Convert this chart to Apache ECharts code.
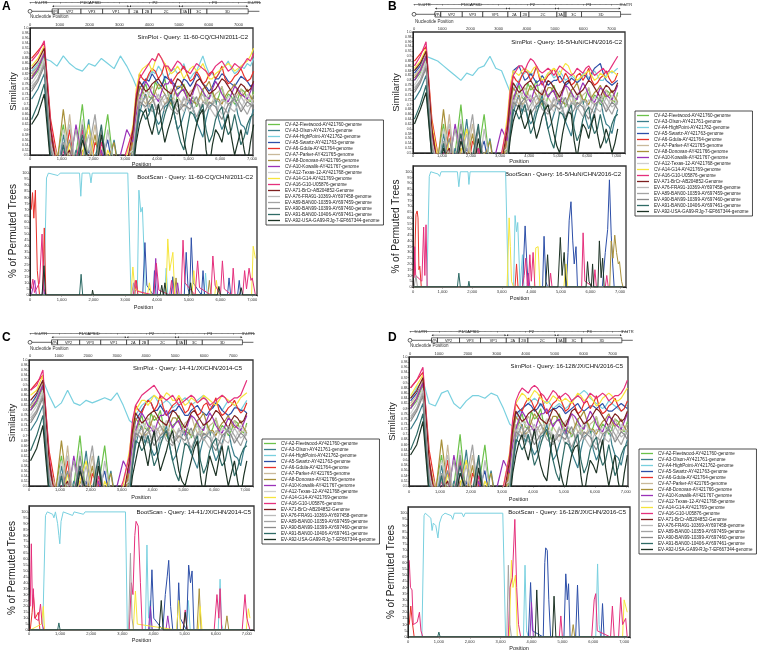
<!DOCTYPE html>
<html>
<head>
<meta charset="utf-8">
<script src="https://cdn.jsdelivr.net/npm/echarts@6/dist/echarts.min.js"></script>
<style>
  html, body { margin: 0; padding: 0; background: #fff; }
  #main { width: 759px; height: 652px; }
</style>
</head>
<body>
<div id="main"></div>
<script>
// reference strains, in legend order
const NAMES = [
  'CV-A2-Fleetwood-AY421760-genome', 'CV-A3-Olson-AY421761-genome', 'CV-A4-HighPoint-AY421762-genome',
  'CV-A5-Swartz-AY421763-genome', 'CV-A6-Gdula-AY421764-genome', 'CV-A7-Parker-AY421765-genome',
  'CV-A8-Donovan-AY421766-genome', 'CV-A10-Kowalik-AY421767-genome', 'CV-A12-Texas-12-AY421768-genome',
  'CV-A14-G14-AY421769-genome', 'CV-A16-G10-U05876-genome', 'EV-A71-BrCr-AB204852-Genome',
  'EV-A76-FRA91-10369-AY697458-genome', 'EV-A89-BAN00-10359-AY697459-genome', 'EV-A90-BAN99-10399-AY697460-genome',
  'EV-A91-BAN00-10406-AY697461-genome', 'EV-A92-USA-GA99-RJg-7-EF667344-genome'
];
const COLORS = ['#6cc24a', '#3b7f8c', '#79d0df', '#2d4fa8', '#e8312a', '#c9b99b', '#a8903a', '#9a32b8', '#cfcfcf',
  '#f6e53c', '#e5307c', '#7d1f1f', '#bababa', '#a3a3a3', '#8a8a8a', '#2f6b66', '#1d3325'];

// genome map
const GENES = [['VP4', 743, 950], ['VP2', 950, 1712], ['VP3', 1712, 2438], ['VP1', 2438, 3329], ['2A', 3329, 3779],
  ['2B', 3779, 4076], ['2C', 4076, 5066], ['3A', 5066, 5324], ['3B', 5324, 5390], ['3C', 5390, 5939], ['3D', 5939, 7322]];
const REGIONS = [["5'-UTR", 0, 743], ['P1/CAPSID', 743, 3329], ['P2', 3329, 5066], ['P3', 5066, 7322], ["3'-UTR", 7322, 7700]];

// SimPlot window centres (nt)
const SIM_POS = [50, 250, 450, 650, 850, 1050, 1250, 1450, 1650, 1850, 2050, 2250, 2450, 2650, 2850, 3050, 3250,
  3350, 3450, 3550, 3650, 3750, 3850, 3950, 4050, 4150, 4250, 4350, 4450, 4550, 4650, 4750, 4850, 4950, 5050, 5150,
  5250, 5350, 5450, 5550, 5650, 5750, 5850, 5950, 6050, 6150, 6250, 6350, 6450, 6550, 6650, 6750, 6850, 6950, 7050];

// similarity curves that look alike in all four panels
const bg_A2 = [0.8,0.83,0.89, 0.55,0.48,0.62,0.44,0.5,0.7,0.45,0.4,0.5,0.66,0.44,0.4,0.46, 0.52,
  0.64,0.7,0.75,0.78,0.73,0.72,0.79,0.76,0.77,0.8,0.74,0.7,0.68,0.74,0.75,0.78,0.74,0.71,0.73,0.69,0.72,0.76,0.7,0.73,0.75,0.7,0.73,0.77,0.71,0.74,0.73,0.7,0.72,0.76,0.75,0.72,0.71,0.75];
const bg_A3 = [0.72,0.76,0.82, 0.5,0.44,0.58,0.42,0.52,0.46,0.64,0.42,0.5,0.44,0.56,0.4,0.45, 0.48,
  0.58,0.66,0.71,0.74,0.67,0.7,0.65,0.62,0.64,0.69,0.7,0.74,0.66,0.6,0.62,0.66,0.7,0.72,0.68,0.63,0.6,0.57,0.64,0.69,0.7,0.72,0.64,0.6,0.63,0.67,0.71,0.73,0.66,0.62,0.61,0.58,0.64,0.68];
const bg_A6 = [0.88,0.91,0.94, 0.64,0.5,0.45,0.6,0.42,0.48,0.4,0.55,0.5,0.44,0.38,0.47,0.42, 0.58,
  0.72,0.82,0.8,0.79,0.82,0.84,0.83,0.8,0.82,0.86,0.81,0.78,0.8,0.82,0.83,0.85,0.82,0.79,0.8,0.83,0.81,0.78,0.79,0.82,0.83,0.8,0.82,0.85,0.8,0.78,0.79,0.81,0.82,0.84,0.81,0.79,0.8,0.83];
const bg_A7 = [0.82,0.85,0.91, 0.58,0.5,0.45,0.66,0.42,0.55,0.48,0.62,0.44,0.5,0.4,0.45,0.42, 0.55,
  0.68,0.74,0.72,0.7,0.74,0.77,0.75,0.72,0.73,0.7,0.72,0.76,0.75,0.73,0.71,0.69,0.72,0.75,0.76,0.78,0.74,0.71,0.72,0.7,0.71,0.74,0.75,0.77,0.73,0.7,0.71,0.72,0.74,0.76,0.73,0.71,0.72,0.74];
const bg_A8 = [0.81,0.84,0.9, 0.57,0.46,0.68,0.48,0.44,0.52,0.46,0.58,0.42,0.48,0.55,0.4,0.44, 0.56,
  0.7,0.77,0.75,0.73,0.7,0.71,0.75,0.78,0.76,0.74,0.72,0.7,0.74,0.77,0.77,0.75,0.73,0.72,0.71,0.7,0.73,0.76,0.77,0.79,0.75,0.72,0.72,0.7,0.73,0.75,0.76,0.78,0.75,0.73,0.74,0.76,0.73,0.71];
const bg_A10 = [0.8,0.84,0.9, 0.56,0.42,0.5,0.45,0.62,0.48,0.4,0.44,0.52,0.42,0.46,0.5,0.6, 0.55,
  0.66,0.72,0.76,0.79,0.77,0.74,0.73,0.71,0.75,0.78,0.78,0.8,0.76,0.73,0.75,0.76,0.72,0.7,0.75,0.78,0.77,0.75,0.73,0.72,0.76,0.79,0.77,0.74,0.72,0.71,0.74,0.77,0.76,0.74,0.73,0.72,0.75,0.78];
const bg_A12 = [0.78,0.82,0.88, 0.55,0.44,0.6,0.5,0.47,0.64,0.42,0.5,0.56,0.44,0.48,0.42,0.5, 0.52,
  0.63,0.7,0.73,0.75,0.74,0.73,0.7,0.68,0.71,0.72,0.74,0.76,0.72,0.7,0.69,0.67,0.71,0.74,0.73,0.71,0.7,0.69,0.72,0.75,0.73,0.7,0.68,0.66,0.7,0.73,0.72,0.71,0.7,0.68,0.71,0.74,0.72,0.7];
const bg_A71 = [0.84,0.87,0.92, 0.6,0.44,0.48,0.52,0.4,0.46,0.5,0.42,0.45,0.4,0.5,0.43,0.46, 0.6,
  0.72,0.79,0.77,0.75,0.76,0.78,0.79,0.8,0.78,0.76,0.75,0.74,0.77,0.8,0.79,0.77,0.75,0.73,0.76,0.79,0.8,0.78,0.76,0.74,0.75,0.76,0.78,0.8,0.79,0.77,0.75,0.73,0.76,0.78,0.77,0.75,0.76,0.79];
const bg_A76 = [0.77,0.8,0.87, 0.54,0.46,0.52,0.62,0.44,0.48,0.58,0.45,0.4,0.6,0.46,0.44,0.4, 0.5,
  0.62,0.72,0.7,0.68,0.69,0.71,0.72,0.74,0.7,0.67,0.69,0.72,0.71,0.69,0.7,0.73,0.69,0.66,0.68,0.7,0.72,0.74,0.71,0.69,0.67,0.65,0.69,0.72,0.71,0.7,0.68,0.67,0.7,0.73,0.71,0.69,0.7,0.72];
const bg_A89 = [0.76,0.8,0.86, 0.53,0.42,0.55,0.48,0.6,0.46,0.52,0.66,0.45,0.5,0.42,0.48,0.44, 0.5,
  0.6,0.69,0.71,0.73,0.7,0.67,0.68,0.7,0.72,0.74,0.71,0.68,0.67,0.66,0.69,0.72,0.72,0.7,0.68,0.65,0.68,0.71,0.7,0.68,0.7,0.72,0.71,0.69,0.68,0.66,0.7,0.74,0.72,0.7,0.68,0.66,0.69,0.71];
const bg_A90 = [0.75,0.79,0.85, 0.52,0.45,0.48,0.56,0.43,0.62,0.47,0.44,0.6,0.46,0.5,0.43,0.47, 0.49,
  0.6,0.71,0.7,0.69,0.71,0.73,0.69,0.66,0.68,0.7,0.71,0.72,0.7,0.67,0.68,0.7,0.69,0.68,0.71,0.73,0.69,0.66,0.68,0.71,0.7,0.69,0.66,0.64,0.67,0.7,0.71,0.72,0.7,0.67,0.69,0.71,0.7,0.68];
const bg_A91 = [0.64,0.7,0.78, 0.48,0.42,0.54,0.4,0.46,0.58,0.43,0.48,0.62,0.4,0.45,0.5,0.42, 0.46,
  0.58,0.68,0.67,0.64,0.66,0.7,0.64,0.58,0.61,0.66,0.7,0.72,0.66,0.6,0.55,0.52,0.6,0.67,0.66,0.63,0.67,0.7,0.6,0.55,0.58,0.64,0.67,0.69,0.62,0.58,0.6,0.66,0.6,0.54,0.57,0.62,0.65,0.66];

// panel A similarity
const simA_A4 = [0.83,0.86,0.88, 0.87,0.85,0.89,0.86,0.84,0.83,0.86,0.85,0.88,0.86,0.84,0.89,0.85, 0.8,
  0.77,0.76,0.78,0.79,0.81,0.83,0.82,0.85,0.83,0.8,0.81,0.83,0.84,0.82,0.83,0.86,0.82,0.8,0.82,0.83,0.86,0.89,0.85,0.82,0.82,0.8,0.82,0.84,0.85,0.87,0.84,0.82,0.83,0.85,0.84,0.86,0.85,0.88];
const simA_A5 = [0.82,0.85,0.9, 0.58,0.46,0.55,0.42,0.5,0.45,0.52,0.4,0.47,0.56,0.42,0.45,0.4, 0.55,
  0.7,0.76,0.78,0.8,0.79,0.82,0.8,0.78,0.77,0.81,0.8,0.79,0.78,0.76,0.77,0.8,0.79,0.77,0.79,0.82,0.8,0.78,0.77,0.75,0.77,0.8,0.8,0.82,0.81,0.79,0.78,0.77,0.79,0.81,0.8,0.79,0.77,0.78];
const simA_A14 = [0.85,0.88,0.93, 0.6,0.47,0.4,0.55,0.44,0.5,0.62,0.45,0.4,0.52,0.46,0.38,0.5, 0.62,
  0.76,0.82,0.84,0.85,0.86,0.83,0.87,0.9,0.88,0.86,0.84,0.82,0.83,0.85,0.83,0.8,0.82,0.84,0.85,0.83,0.84,0.86,0.83,0.8,0.8,0.82,0.83,0.84,0.85,0.86,0.85,0.83,0.84,0.85,0.86,0.87,0.89,0.92];
const simA_A16 = [0.87,0.9,0.95, 0.62,0.45,0.52,0.4,0.48,0.6,0.42,0.38,0.55,0.47,0.35,0.44,0.52, 0.6,
  0.74,0.8,0.82,0.84,0.86,0.88,0.87,0.9,0.88,0.85,0.85,0.83,0.85,0.87,0.86,0.84,0.83,0.82,0.84,0.86,0.85,0.84,0.83,0.81,0.83,0.85,0.86,0.87,0.85,0.83,0.84,0.86,0.85,0.84,0.86,0.88,0.87,0.9];
const simA_A92 = [0.62,0.66,0.74, 0.46,0.4,0.5,0.44,0.42,0.56,0.48,0.4,0.58,0.42,0.4,0.46,0.4, 0.44,
  0.55,0.62,0.66,0.68,0.62,0.58,0.64,0.7,0.62,0.55,0.6,0.64,0.69,0.72,0.63,0.56,0.5,0.48,0.56,0.62,0.66,0.68,0.52,0.45,0.54,0.6,0.58,0.55,0.62,0.66,0.57,0.5,0.55,0.6,0.52,0.46,0.55,0.62];
// panel B similarity
const simB_A4 = [0.84,0.87,0.9, 0.89,0.88,0.86,0.84,0.82,0.8,0.83,0.82,0.85,0.86,0.9,0.85,0.84, 0.78,
  0.75,0.76,0.78,0.8,0.82,0.83,0.84,0.82,0.83,0.85,0.82,0.8,0.81,0.83,0.83,0.81,0.82,0.84,0.82,0.8,0.81,0.82,0.81,0.79,0.81,0.83,0.83,0.81,0.82,0.84,0.82,0.8,0.8,0.82,0.84,0.83,0.84,0.85];
const simB_A5 = [0.83,0.86,0.91, 0.58,0.46,0.52,0.44,0.5,0.45,0.52,0.42,0.48,0.55,0.42,0.45,0.42, 0.56,
  0.74,0.84,0.85,0.86,0.83,0.8,0.81,0.83,0.81,0.79,0.8,0.82,0.8,0.78,0.79,0.8,0.8,0.82,0.8,0.78,0.79,0.81,0.8,0.79,0.8,0.82,0.82,0.8,0.83,0.85,0.86,0.87,0.83,0.8,0.79,0.78,0.79,0.8];
const simB_A14 = [0.85,0.88,0.93, 0.62,0.48,0.42,0.56,0.45,0.5,0.6,0.44,0.42,0.5,0.46,0.4,0.48, 0.65,
  0.78,0.84,0.83,0.82,0.84,0.85,0.84,0.83,0.85,0.86,0.82,0.8,0.81,0.83,0.84,0.85,0.84,0.82,0.85,0.87,0.86,0.83,0.82,0.8,0.81,0.82,0.83,0.84,0.82,0.8,0.81,0.83,0.82,0.81,0.83,0.84,0.83,0.82];
const simB_A16 = [0.86,0.9,0.96, 0.6,0.45,0.5,0.42,0.46,0.58,0.4,0.45,0.52,0.44,0.38,0.46,0.5, 0.62,
  0.76,0.82,0.84,0.86,0.86,0.84,0.87,0.89,0.88,0.86,0.84,0.83,0.84,0.85,0.84,0.82,0.84,0.86,0.85,0.84,0.83,0.82,0.83,0.85,0.84,0.83,0.85,0.86,0.84,0.82,0.83,0.84,0.85,0.83,0.84,0.86,0.88,0.9];
const simB_A92 = [0.62,0.68,0.75, 0.48,0.4,0.52,0.44,0.42,0.55,0.46,0.4,0.56,0.42,0.4,0.46,0.42, 0.45,
  0.56,0.63,0.67,0.7,0.64,0.6,0.63,0.68,0.62,0.56,0.6,0.65,0.68,0.7,0.64,0.58,0.53,0.5,0.58,0.64,0.67,0.66,0.55,0.48,0.56,0.62,0.6,0.56,0.62,0.66,0.58,0.52,0.55,0.6,0.56,0.5,0.54,0.6];
// panel C similarity
const simC_A4 = [0.82,0.86,0.92, 0.86,0.81,0.83,0.88,0.83,0.82,0.84,0.83,0.84,0.85,0.84,0.87,0.82, 0.76,
  0.75,0.78,0.8,0.82,0.83,0.84,0.85,0.86,0.84,0.82,0.83,0.84,0.83,0.81,0.82,0.83,0.84,0.85,0.84,0.82,0.83,0.84,0.85,0.86,0.84,0.82,0.81,0.83,0.82,0.8,0.82,0.84,0.83,0.82,0.81,0.8,0.82,0.84];
const simC_A5 = [0.82,0.86,0.9, 0.58,0.46,0.54,0.42,0.5,0.46,0.52,0.4,0.48,0.56,0.42,0.46,0.4, 0.55,
  0.7,0.76,0.78,0.8,0.82,0.84,0.83,0.8,0.8,0.82,0.8,0.78,0.79,0.8,0.8,0.82,0.8,0.78,0.78,0.8,0.81,0.82,0.8,0.79,0.78,0.8,0.81,0.83,0.82,0.8,0.79,0.78,0.79,0.81,0.81,0.8,0.8,0.79];
const simC_A14 = [0.86,0.88,0.94, 0.6,0.46,0.42,0.55,0.44,0.52,0.6,0.45,0.4,0.52,0.46,0.38,0.5, 0.64,
  0.74,0.8,0.82,0.84,0.84,0.82,0.84,0.86,0.85,0.84,0.85,0.87,0.86,0.84,0.84,0.86,0.84,0.82,0.83,0.85,0.84,0.83,0.84,0.86,0.85,0.84,0.83,0.82,0.84,0.86,0.85,0.84,0.83,0.82,0.83,0.85,0.86,0.87];
const simC_A16 = [0.88,0.9,0.96, 0.62,0.44,0.5,0.4,0.47,0.58,0.42,0.38,0.54,0.46,0.36,0.45,0.52, 0.62,
  0.76,0.82,0.84,0.86,0.87,0.88,0.89,0.9,0.88,0.86,0.85,0.84,0.85,0.86,0.84,0.82,0.83,0.84,0.85,0.86,0.85,0.83,0.84,0.85,0.84,0.82,0.83,0.84,0.85,0.86,0.85,0.83,0.84,0.85,0.85,0.86,0.89,0.92];
const simC_A92 = [0.6,0.65,0.74, 0.46,0.4,0.5,0.44,0.42,0.56,0.48,0.4,0.58,0.42,0.4,0.46,0.4, 0.44,
  0.54,0.6,0.66,0.7,0.64,0.58,0.66,0.72,0.63,0.56,0.6,0.64,0.69,0.72,0.64,0.56,0.52,0.5,0.55,0.6,0.65,0.68,0.54,0.46,0.55,0.62,0.58,0.54,0.61,0.66,0.57,0.5,0.55,0.6,0.52,0.46,0.54,0.6];
// panel D similarity
const simD_A4 = [0.84,0.88,0.91, 0.82,0.81,0.86,0.87,0.82,0.8,0.83,0.85,0.85,0.84,0.86,0.85,0.8, 0.74,
  0.73,0.76,0.78,0.8,0.81,0.82,0.83,0.84,0.83,0.81,0.82,0.83,0.82,0.8,0.81,0.82,0.81,0.8,0.81,0.83,0.84,0.85,0.86,0.87,0.86,0.84,0.83,0.82,0.81,0.8,0.81,0.83,0.82,0.81,0.8,0.79,0.8,0.82];
const simD_A5 = [0.83,0.86,0.9, 0.58,0.46,0.54,0.42,0.5,0.45,0.52,0.4,0.48,0.56,0.42,0.45,0.41, 0.56,
  0.7,0.78,0.79,0.8,0.81,0.82,0.81,0.79,0.8,0.82,0.8,0.78,0.79,0.8,0.8,0.81,0.8,0.78,0.79,0.8,0.81,0.82,0.8,0.79,0.8,0.81,0.81,0.8,0.81,0.82,0.8,0.79,0.79,0.8,0.81,0.82,0.81,0.8];
const simD_A14 = [0.85,0.89,0.93, 0.6,0.47,0.42,0.55,0.45,0.5,0.6,0.44,0.41,0.52,0.46,0.38,0.5, 0.63,
  0.75,0.82,0.84,0.86,0.85,0.83,0.85,0.87,0.86,0.84,0.83,0.82,0.83,0.85,0.84,0.83,0.83,0.84,0.83,0.82,0.84,0.86,0.85,0.83,0.84,0.85,0.83,0.81,0.82,0.84,0.85,0.86,0.85,0.83,0.83,0.84,0.86,0.88];
const simD_A16 = [0.88,0.91,0.96, 0.6,0.45,0.52,0.42,0.46,0.6,0.42,0.4,0.54,0.46,0.36,0.44,0.5, 0.62,
  0.76,0.83,0.86,0.88,0.87,0.86,0.88,0.89,0.88,0.86,0.85,0.83,0.85,0.87,0.86,0.84,0.85,0.86,0.85,0.83,0.84,0.85,0.84,0.82,0.84,0.86,0.85,0.84,0.85,0.86,0.85,0.83,0.84,0.85,0.85,0.86,0.88,0.91];
const simD_A92 = [0.62,0.66,0.75, 0.46,0.4,0.5,0.44,0.42,0.55,0.48,0.4,0.57,0.42,0.4,0.46,0.4, 0.44,
  0.55,0.62,0.67,0.7,0.64,0.6,0.66,0.72,0.64,0.58,0.54,0.52,0.62,0.7,0.64,0.58,0.52,0.48,0.56,0.62,0.65,0.66,0.54,0.46,0.54,0.6,0.58,0.55,0.62,0.68,0.57,0.5,0.56,0.62,0.52,0.46,0.55,0.62];

// BootScan: [position, % of permuted trees]
const FLAT = [[40, 0], [7100, 0]];

const bsA_A4 = [[40,0],[440,0],[520,96],[580,100],[880,98],[950,100],[1560,100],[1600,81],[1640,100],[1880,100],[1920,92],[1960,100],[3080,100],[3180,0],[3380,0],[3430,86],[3490,68],[3540,72],[3640,0],[4240,0],[4290,22],[4340,0],[5480,0],[5530,18],[5580,0],[7100,0]];
const bsA_A5 = [[40,0],[3550,0],[3620,43],[3680,8],[3880,0],[3920,20],[3970,0],[4450,0],[4500,15],[4550,0],[4860,0],[4920,35],[4980,5],[5030,0],[5080,47],[5140,10],[5400,0],[5450,20],[5500,0],[6220,0],[6270,14],[6320,0],[6540,0],[6590,12],[6640,0],[7100,0]];
const bsA_A6 = [[40,70],[80,84],[120,63],[170,86],[230,20],[300,0],[400,0],[450,55],[500,0],[3300,0],[3350,12],[3400,0],[7100,0]];
const bsA_A8 = [[40,0],[4550,0],[4600,14],[4650,0],[5600,0],[5650,12],[5700,0],[7100,0]];
const bsA_A10 = [[40,0],[150,12],[200,0],[380,0],[420,8],[460,0],[3900,0],[3960,30],[4020,0],[4600,0],[4650,10],[4700,0],[7100,0]];
const bsA_A14 = [[40,0],[3180,0],[3240,23],[3300,5],[3700,0],[3760,10],[3820,0],[4280,0],[4340,46],[4400,20],[4500,35],[4560,0],[5100,0],[5160,20],[5220,0],[5820,0],[5870,12],[5930,0],[6980,0],[7030,40],[7100,30]];
const bsA_A16 = [[40,5],[90,13],[140,2],[300,10],[380,50],[430,5],[520,0],[3250,0],[3320,12],[3380,3],[3900,0],[3980,26],[4060,4],[4400,0],[4460,12],[4520,0],[4760,0],[4820,45],[4880,10],[5200,0],[5280,28],[5340,6],[5700,0],[5760,32],[5830,8],[6000,0],[6060,28],[6120,5],[6350,0],[6400,22],[6460,0],[6700,0],[6760,20],[6820,5],[6900,22],[6960,12],[7000,14],[7100,0]];
const bsA_A89 = [[40,0],[3200,0],[3260,10],[3300,0],[7100,0]];
const bsA_A91 = [[40,0],[1560,0],[1610,17],[1660,0],[7100,0]];
const bsA_A92 = [[40,0],[380,0],[440,24],[490,0],[1950,0],[1970,4],[2000,0],[4100,0],[4150,8],[4200,0],[4250,10],[4300,0],[5000,0],[5060,10],[5110,0],[5900,0],[5950,7],[6000,0],[6600,0],[6650,6],[6700,0],[7100,0]];

const bsB_A4 = [[40,0],[470,0],[550,96],[600,100],[850,98],[900,96],[950,100],[1500,100],[1550,87],[1600,100],[1860,100],[1890,89],[1930,100],[3130,100],[3220,0],[3400,0],[3450,62],[3500,48],[3540,56],[3620,0],[3660,0],[3700,28],[3750,0],[7100,0]];
const bsB_A5 = [[40,0],[3700,0],[3790,53],[3850,20],[3900,0],[4380,0],[4430,44],[4490,5],[4550,0],[5180,0],[5240,30],[5280,58],[5340,74],[5400,40],[5450,20],[5510,35],[5560,0],[6400,0],[6500,30],[6580,50],[6640,93],[6700,45],[6750,20],[6800,0],[7100,0]];
const bsB_A6 = [[40,10],[100,63],[140,66],[170,60],[200,15],[230,18],[280,0],[3450,0],[3500,20],[3550,0],[7100,0]];
const bsB_A8 = [[40,0],[6650,0],[6700,40],[6760,25],[6820,45],[6880,30],[6940,20],[6980,22],[7050,5],[7100,0]];
const bsB_A10 = [[40,0],[3850,0],[3900,12],[3950,0],[7100,0]];
const bsB_A14 = [[40,0],[3180,0],[3250,60],[3290,35],[3330,5],[3400,0],[4100,0],[4150,34],[4230,35],[4290,0],[5100,0],[5170,20],[5230,0],[7100,0]];
const bsB_A16 = [[40,8],[60,35],[90,10],[300,5],[360,52],[400,10],[440,54],[480,0],[3700,0],[3760,10],[3810,25],[3860,3],[3900,0],[3950,28],[4000,5],[4060,30],[4120,0],[4600,0],[4650,12],[4700,0],[5700,0],[5750,47],[5810,5],[6100,0],[6150,15],[6200,0],[6500,0],[6550,10],[6600,0],[7100,0]];
const bsB_A89 = [[40,0],[100,10],[150,0],[7100,0]];
const bsB_A91 = [[40,0],[1500,0],[1550,12],[1600,0],[1860,0],[1890,5],[1920,0],[7100,0]];
const bsB_A92 = [[40,0],[4480,0],[4550,28],[4610,0],[4900,0],[4980,43],[5040,10],[5110,30],[5170,0],[5850,0],[5900,22],[5950,5],[6030,0],[6070,20],[6110,0],[6250,0],[6300,40],[6360,8],[6410,25],[6460,0],[7100,0]];

const bsC_A4 = [[40,0],[440,0],[530,97],[590,100],[760,98],[800,95],[850,100],[920,90],[960,80],[990,73],[1030,92],[1100,100],[1400,97],[1450,100],[1750,98],[1800,100],[3100,100],[3160,0],[3740,0],[3790,72],[3840,10],[3900,25],[3950,0],[5050,0],[5120,25],[5180,0],[6080,0],[6140,43],[6190,5],[6240,0],[7100,0]];
const bsC_A5 = [[40,0],[3880,0],[3950,51],[4010,10],[4300,0],[4380,30],[4440,45],[4490,59],[4550,20],[4620,0],[4760,0],[4810,40],[4860,10],[5060,0],[5130,55],[5190,40],[5240,50],[5300,0],[7100,0]];
const bsC_A6 = [[40,0],[100,15],[140,30],[200,10],[300,15],[350,0],[7100,0]];
const bsC_A8 = [[40,0],[5400,0],[5470,35],[5530,0],[6300,0],[6360,12],[6420,0],[7100,0]];
const bsC_A10 = [[40,0],[3840,0],[3900,20],[3960,0],[4400,0],[4460,12],[4520,0],[7100,0]];
const bsC_A14 = [[40,0],[400,5],[460,20],[500,0],[3350,0],[3420,33],[3480,5],[4740,0],[4810,25],[4870,0],[5440,0],[5500,20],[5560,0],[6980,0],[7050,18],[7100,10]];
const bsC_A16 = [[40,20],[75,73],[110,20],[140,35],[180,10],[300,8],[370,22],[420,5],[480,0],[3220,0],[3290,40],[3340,30],[3400,80],[3440,92],[3510,88],[3580,40],[3640,0],[4950,0],[5020,17],[5080,0],[5950,0],[6040,30],[6100,10],[6140,35],[6190,0],[6850,0],[6940,30],[7000,10],[7100,0]];
const bsC_A89 = [[40,0],[3200,0],[3260,65],[3310,10],[3360,0],[7100,0]];
const bsC_A91 = [[40,0],[920,0],[960,6],[1000,0],[7100,0]];
const bsC_A92 = [[40,0],[4180,0],[4250,25],[4310,0],[4960,0],[5020,15],[5080,0],[7100,0]];

const bsD_A4 = [[40,0],[450,0],[520,98],[560,100],[740,96],[780,86],[820,92],[900,90],[970,80],[1020,92],[1100,98],[1200,100],[1400,98],[1450,95],[1500,100],[1750,100],[1800,97],[1850,100],[3070,100],[3160,0],[3740,0],[3790,58],[3840,5],[3900,0],[6080,0],[6140,59],[6190,10],[6240,0],[7100,0]];
const bsD_A5 = [[40,0],[3900,0],[3970,44],[4030,5],[4380,0],[4430,60],[4460,72],[4510,70],[4560,30],[4620,0],[5050,0],[5110,51],[5160,30],[5200,43],[5250,0],[5430,0],[5490,42],[5550,0],[6250,0],[6300,27],[6350,0],[7100,0]];
const bsD_A6 = [[40,10],[90,25],[140,12],[200,0],[7100,0]];
const bsD_A8 = [[40,0],[5300,0],[5350,10],[5400,0],[7100,0]];
const bsD_A10 = [[40,0],[3950,0],[4000,28],[4060,0],[7100,0]];
const bsD_A14 = [[40,0],[3280,0],[3350,62],[3400,40],[3480,50],[3540,0],[6950,0],[7000,30],[7100,20]];
const bsD_A16 = [[40,62],[80,40],[130,38],[170,10],[300,12],[370,20],[420,5],[480,0],[3250,0],[3300,40],[3380,48],[3460,95],[3520,40],[3580,10],[3650,0],[4900,0],[4950,17],[5000,0],[5950,0],[6030,30],[6080,35],[6130,5],[6560,0],[6620,25],[6680,0],[6820,0],[6890,32],[6950,10],[7050,15],[7100,0]];
const bsD_A89 = [[40,0],[3200,0],[3250,58],[3300,10],[3350,0],[7100,0]];
const bsD_A91 = [[40,0],[960,0],[1000,4],[1040,0],[7100,0]];
const bsD_A92 = [[40,0],[4120,0],[4170,38],[4230,0],[4680,0],[4730,33],[4790,0],[7100,0]];

const FONT = '"Liberation Sans", Arial, sans-serif';

// layout of the four panels
const PANELS = [
  { letter: 'A', lx: 2, ly: 1, query: '11-60-CQ/CHN/2011-C2',
    diag: { left: 30, top: 2, width: 230, height: 19, max: 7720 }, np: [30, 17],
    sim: { left: 30, top: 28, width: 223, height: 127, max: 7030, gap: 6, yGap: 12, lm: 1.5 },
    boot: { left: 30, top: 167, width: 227, height: 128, max: 7150, gap: 9, yGap: 12, lm: 3 },
    simTitle: [248, 37], bootTitle: [253, 177], legend: [266, 120],
    sim_data: [bg_A2, bg_A3, simA_A4, simA_A5, bg_A6, bg_A7, bg_A8, bg_A10, bg_A12, simA_A14, simA_A16, bg_A71, bg_A76, bg_A89, bg_A90, bg_A91, simA_A92],
    boot_data: [FLAT, FLAT, bsA_A4, bsA_A5, bsA_A6, FLAT, bsA_A8, bsA_A10, FLAT, bsA_A14, bsA_A16, FLAT, FLAT, bsA_A89, FLAT, bsA_A91, bsA_A92] },
  { letter: 'B', lx: 388, ly: 1, query: '16-5/HuN/CHN/2016-C2',
    diag: { left: 414, top: 4, width: 211, height: 21, max: 7480 }, np: [415, 22],
    sim: { left: 413, top: 32, width: 212, height: 121, max: 7300, gap: 4.5, yGap: 8, lm: 1 },
    boot: { left: 413, top: 166, width: 213, height: 121, max: 7200, gap: 8, yGap: 10, lm: 3 },
    simTitle: [622, 42], bootTitle: [621, 174], legend: [635, 111],
    sim_data: [bg_A2, bg_A3, simB_A4, simB_A5, bg_A6, bg_A7, bg_A8, bg_A10, bg_A12, simB_A14, simB_A16, bg_A71, bg_A76, bg_A89, bg_A90, bg_A91, simB_A92],
    boot_data: [FLAT, FLAT, bsB_A4, bsB_A5, bsB_A6, FLAT, bsB_A8, bsB_A10, FLAT, bsB_A14, bsB_A16, FLAT, FLAT, bsB_A89, FLAT, bsB_A91, bsB_A92] },
  { letter: 'C', lx: 2, ly: 332, query: '14-41/JX/CHN/2014-C5',
    diag: { left: 30, top: 333, width: 224, height: 19, max: 7720 }, np: [30, 349],
    sim: { left: 29, top: 360, width: 224, height: 126, max: 7250, gap: 8, yGap: 11, lm: 2 },
    boot: { left: 29, top: 506, width: 225, height: 124, max: 7230, gap: 7, yGap: 11, lm: 2 },
    simTitle: [242, 368], bootTitle: [251, 512], legend: [262, 439],
    sim_data: [bg_A2, bg_A3, simC_A4, simC_A5, bg_A6, bg_A7, bg_A8, bg_A10, bg_A12, simC_A14, simC_A16, bg_A71, bg_A76, bg_A89, bg_A90, bg_A91, simC_A92],
    boot_data: [FLAT, FLAT, bsC_A4, bsC_A5, bsC_A6, FLAT, bsC_A8, bsC_A10, FLAT, bsC_A14, bsC_A16, FLAT, FLAT, bsC_A89, FLAT, bsC_A91, bsC_A92] },
  { letter: 'D', lx: 388, ly: 332, query: '16-128/JX/CHN/2016-C5',
    diag: { left: 410, top: 331, width: 217, height: 19, max: 7500 }, np: [410, 346],
    sim: { left: 409, top: 357, width: 219, height: 129, max: 7070, gap: 10, yGap: 11, lm: 4 },
    boot: { left: 408, top: 507, width: 222, height: 130, max: 7190, gap: 8, yGap: 10, lm: 2.5 },
    simTitle: [623, 366], bootTitle: [626, 512], legend: [639, 449],
    sim_data: [bg_A2, bg_A3, simD_A4, simD_A5, bg_A6, bg_A7, bg_A8, bg_A10, bg_A12, simD_A14, simD_A16, bg_A71, bg_A76, bg_A89, bg_A90, bg_A91, simD_A92],
    boot_data: [FLAT, FLAT, bsD_A4, bsD_A5, bsD_A6, FLAT, bsD_A8, bsD_A10, FLAT, bsD_A14, bsD_A16, FLAT, FLAT, bsD_A89, FLAT, bsD_A91, bsD_A92] }
];

function geneItem(params, api) {
  const g = GENES[params.dataIndex];
  const a = api.coord([api.value(0), 3.6]);
  const b = api.coord([api.value(1), 6.2]);
  const kids = [{ type: 'rect', shape: { x: a[0], y: a[1], width: b[0] - a[0], height: b[1] - a[1] },
    style: { fill: '#fff', stroke: '#222', lineWidth: 0.7 } }];
  if (b[0] - a[0] > 5) {
    kids.push({ type: 'text', style: { text: g[0], x: (a[0] + b[0]) / 2, y: (a[1] + b[1]) / 2 + 0.3, align: 'center',
      verticalAlign: 'middle', fontSize: 3.8, fill: '#222', fontFamily: FONT } });
  }
  return { type: 'group', children: kids };
}

function regionItem(params, api) {
  const r = REGIONS[params.dataIndex];
  const s = api.value(0), e = api.value(1);
  const lab = api.coord([(s + e) / 2, 0.6]);
  const kids = [{ type: 'text', style: { text: r[0], x: lab[0], y: lab[1], align: 'center', verticalAlign: 'middle',
    fontSize: 4, fill: '#222', fontFamily: FONT } }];
  if (r[0].indexOf('UTR') >= 0) {
    const p = api.coord([s, 4.9]), q = api.coord([e, 4.9]);
    kids.push({ type: 'line', shape: { x1: p[0], y1: p[1], x2: q[0], y2: q[1] }, style: { stroke: '#222', lineWidth: 0.7 } });
    if (s === 0) kids.push({ type: 'circle', shape: { cx: p[0], cy: p[1], r: 1.9 }, style: { fill: '#fff', stroke: '#222', lineWidth: 0.7 } });
  } else {
    const p = api.coord([s, 2.2]), q = api.coord([e, 2.2]);
    kids.push({ type: 'line', shape: { x1: p[0] + 1, y1: p[1], x2: q[0] - 1, y2: q[1] }, style: { stroke: '#333', lineWidth: 0.5 } });
    kids.push({ type: 'polygon', shape: { points: [[p[0], p[1]], [p[0] + 1.8, p[1] - 1], [p[0] + 1.8, p[1] + 1]] }, style: { fill: '#222' } });
    kids.push({ type: 'polygon', shape: { points: [[q[0], q[1]], [q[0] - 1.8, q[1] - 1], [q[0] - 1.8, q[1] + 1]] }, style: { fill: '#222' } });
  }
  return { type: 'group', children: kids };
}

const grids = [], xAxes = [], yAxes = [], series = [], legends = [], texts = [];
const simLabel = v => (Math.abs(v - 1) < 1e-9 ? '1.0' : String(Math.round(v * 100) / 100));

PANELS.forEach((P, pi) => {
  const d = pi * 3, s = d + 1, b = d + 2;
  grids.push({ left: P.diag.left, top: P.diag.top, width: P.diag.width, height: P.diag.height, show: false, containLabel: false, outerBoundsMode: 'none' });
  grids.push({ left: P.sim.left, top: P.sim.top, width: P.sim.width, height: P.sim.height, show: true,
    borderColor: '#333', borderWidth: 1.3, backgroundColor: 'transparent', containLabel: false, outerBoundsMode: 'none' });
  grids.push({ left: P.boot.left, top: P.boot.top, width: P.boot.width, height: P.boot.height, show: true,
    borderColor: '#333', borderWidth: 1.3, backgroundColor: 'transparent', containLabel: false, outerBoundsMode: 'none' });

  // genome ruler
  xAxes.push({ gridIndex: d, type: 'value', min: 0, max: P.diag.max, interval: 1000, position: 'bottom',
    axisLine: { show: true, lineStyle: { color: '#444', width: 0.6 } },
    axisTick: { show: true, length: 1.6, lineStyle: { color: '#444', width: 0.5 } },
    minorTick: { show: true, splitNumber: 5, length: 1, lineStyle: { color: '#666', width: 0.4 } },
    axisLabel: { fontSize: 4, margin: 1.5, color: '#333', fontFamily: FONT, showMaxLabel: false, formatter: v => String(v) },
    splitLine: { show: false } });
  yAxes.push({ gridIndex: d, type: 'value', min: 0, max: 10, inverse: true, show: false });

  // SimPlot axes
  xAxes.push({ gridIndex: s, type: 'value', min: 0, max: P.sim.max, interval: 1000,
    axisLine: { show: true, lineStyle: { color: '#222', width: 1 } },
    axisTick: { show: true, length: 1.6, lineStyle: { color: '#333', width: 0.5 } },
    minorTick: { show: true, splitNumber: 5, length: 1, lineStyle: { color: '#555', width: 0.4 } },
    axisLabel: { fontSize: 4, margin: P.sim.lm, color: '#333', fontFamily: FONT, showMaxLabel: false },
    splitLine: { show: false },
    name: 'Position', nameLocation: 'middle', nameGap: P.sim.gap, nameTextStyle: { fontSize: 5.5, color: '#222', fontFamily: FONT } });
  yAxes.push({ gridIndex: s, type: 'value', min: 0.5, max: 1, interval: 0.02,
    axisLine: { show: true, lineStyle: { color: '#222', width: 1 } },
    axisTick: { show: true, length: 1.4, lineStyle: { color: '#333', width: 0.5 } },
    axisLabel: { fontSize: 3.4, margin: 1.5, color: '#333', fontFamily: FONT, formatter: simLabel },
    splitLine: { show: false },
    name: 'Similarity', nameLocation: 'middle', nameGap: P.sim.yGap, nameRotate: 90,
    nameTextStyle: { fontSize: 9.5, color: '#222', fontFamily: FONT } });

  // BootScan axes (a little headroom above 100)
  xAxes.push({ gridIndex: b, type: 'value', min: 0, max: P.boot.max, interval: 1000,
    axisLine: { show: true, lineStyle: { color: '#222', width: 1 } },
    axisTick: { show: true, length: 1.6, lineStyle: { color: '#333', width: 0.5 } },
    minorTick: { show: true, splitNumber: 5, length: 1, lineStyle: { color: '#555', width: 0.4 } },
    axisLabel: { fontSize: 4, margin: P.boot.lm, color: '#333', fontFamily: FONT, showMaxLabel: false },
    splitLine: { show: false },
    name: 'Position', nameLocation: 'middle', nameGap: P.boot.gap, nameTextStyle: { fontSize: 5.5, color: '#222', fontFamily: FONT } });
  yAxes.push({ gridIndex: b, type: 'value', min: 0, max: 105, interval: 5,
    axisLine: { show: true, lineStyle: { color: '#222', width: 1 } },
    axisTick: { show: true, length: 1.4, lineStyle: { color: '#333', width: 0.5 } },
    axisLabel: { fontSize: 3.8, margin: 1.5, color: '#333', fontFamily: FONT, showMaxLabel: false },
    splitLine: { show: false },
    name: '% of Permuted Trees', nameLocation: 'middle', nameGap: P.boot.yGap, nameRotate: 90,
    nameTextStyle: { fontSize: 10, color: '#222', fontFamily: FONT } });

  series.push({ type: 'custom', xAxisIndex: d, yAxisIndex: d, silent: true, clip: false,
    data: GENES.map(g => [g[1], g[2]]), encode: { x: [0, 1] }, renderItem: geneItem });
  series.push({ type: 'custom', xAxisIndex: d, yAxisIndex: d, silent: true, clip: false,
    data: REGIONS.map(r => [r[1], r[2]]), encode: { x: [0, 1] }, renderItem: regionItem });

  NAMES.forEach((name, k) => {
    series.push({ type: 'line', name: name, xAxisIndex: s, yAxisIndex: s, symbol: 'none', silent: true, clip: true,
      data: SIM_POS.map((pos, j) => [pos, P.sim_data[k][j]]),
      lineStyle: { width: 1.2, color: COLORS[k] }, itemStyle: { color: COLORS[k] } });
  });
  NAMES.forEach((name, k) => {
    series.push({ type: 'line', name: name, xAxisIndex: b, yAxisIndex: b, symbol: 'none', silent: true, clip: true,
      data: P.boot_data[k],
      lineStyle: { width: 1, color: COLORS[k] }, itemStyle: { color: COLORS[k] } });
  });

  legends.push({ data: NAMES, orient: 'vertical', left: P.legend[0], top: P.legend[1], icon: 'rect',
    itemWidth: 12, itemHeight: 1.3, itemGap: 1, padding: [2, 4, 2, 2], selectedMode: false,
    borderColor: '#222', borderWidth: 0.8,
    textStyle: { fontSize: 4.6, lineHeight: 5, color: '#222', fontFamily: FONT } });

  texts.push({ type: 'text', style: { text: P.letter, x: P.lx, y: P.ly, align: 'left', verticalAlign: 'top',
    fontSize: 12, fontWeight: 'bold', fill: '#000', fontFamily: FONT } });
  texts.push({ type: 'text', style: { text: 'Nucleotide Position', x: P.np[0], y: P.np[1], align: 'left', verticalAlign: 'middle',
    fontSize: 4.5, fill: '#333', fontFamily: FONT } });
  texts.push({ type: 'text', style: { text: 'SimPlot - Query: ' + P.query, x: P.simTitle[0], y: P.simTitle[1], align: 'right',
    verticalAlign: 'middle', fontSize: 6, fill: '#111', fontFamily: FONT } });
  texts.push({ type: 'text', style: { text: 'BootScan - Query: ' + P.query, x: P.bootTitle[0], y: P.bootTitle[1], align: 'right',
    verticalAlign: 'middle', fontSize: 6, fill: '#111', fontFamily: FONT } });
});

const chart = echarts.init(document.getElementById('main'));
chart.setOption({
  animation: false,
  backgroundColor: '#fff',
  textStyle: { fontFamily: FONT },
  grid: grids,
  xAxis: xAxes,
  yAxis: yAxes,
  legend: legends,
  series: series,
  graphic: { elements: texts }
});
</script>
</body>
</html>
